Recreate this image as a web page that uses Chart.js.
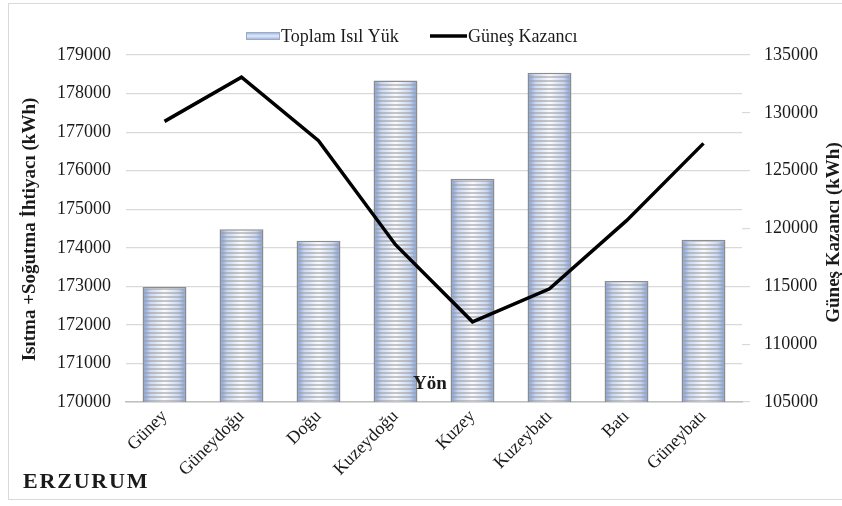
<!DOCTYPE html>
<html>
<head>
<meta charset="utf-8">
<script src="https://cdn.jsdelivr.net/npm/chart.js@4"></script>
<style>
  html, body { margin: 0; padding: 0; background: #fff; }
  #wrap { position: relative; width: 842px; height: 506px; overflow: hidden; }
  #frame { position: absolute; left: 8px; top: 3px; width: 860px; height: 497px; border: 1.5px solid #d9d9d9; box-sizing: border-box; }
  canvas { position: absolute; left: 0; top: 0; }
</style>
</head>
<body>
<div id="wrap">
  <div id="frame"></div>
  <canvas id="chart" width="842" height="506"></canvas>
</div>
<script>
"use strict";

// yönler ve değerler
const categories = ["Güney", "Güneydoğu", "Doğu", "Kuzeydoğu", "Kuzey", "Kuzeybatı", "Batı", "Güneybatı"];
const toplamIsilYuk = [172980, 174480, 174180, 178340, 175790, 178540, 173140, 174210];
const gunesKazanci = [129260, 133080, 127600, 118600, 111930, 114790, 120680, 127360];

// eksen aralıkları: [min, max, adım]
const leftAxisRange = [170000, 179000, 1000];
const rightAxisRange = [105000, 135000, 5000];

const seriesNames = ["Toplam Isıl Yük", "Güneş Kazancı"];
const axisTitles = ["Isıtma +Soğutma İhtiyacı (kWh)", "Güneş Kazancı (kWh)"];
const xTitle = "Yön";
const cityName = "ERZURUM";

const SERIF = "'Liberation Serif', 'Times New Roman', serif";
const TEXT = "#1a1a1a";
const GRID = "#d9d9d9";
const BAR_PCT = 0.57;

// binlik ayırıcı olmadan yaz
const plainNumber = (v) => String(v);

// yatay çizgili, kenarları mavi dolgu (her çubuk için ayrı desen)
function stripeFill(context) {
    const chart = context.chart;
    const xs = chart.scales.x;
    if (context.type !== "data" || !xs || !(xs.right > xs.left)) return "#c9d6ef";
    const slot = (xs.right - xs.left) / categories.length;
    const w = Math.max(2, Math.round(slot * BAR_PCT));
    const left = xs.getPixelForValue(context.dataIndex) - w / 2;
    const c = document.createElement("canvas");
    c.width = w;
    c.height = 4;
    const g = c.getContext("2d");
    const grad = g.createLinearGradient(0, 0, w, 0);
    grad.addColorStop(0, "#7a9ad8");
    grad.addColorStop(0.18, "#cbd8f2");
    grad.addColorStop(0.5, "#fafbfe");
    grad.addColorStop(0.82, "#cbd8f2");
    grad.addColorStop(1, "#7a9ad8");
    g.fillStyle = grad;
    g.fillRect(0, 0, w, 4);
    g.fillStyle = "rgba(155,155,155,0.55)";
    g.fillRect(0, 0, w, 2);
    const p = chart.ctx.createPattern(c, "repeat");
    p.setTransform(new DOMMatrix().translate(left, 0));
    return p;
}

// üstteki gösterge, eksen başlıkları ve şehir adı
const decorations = {
    id: "decorations",
    afterDraw(chart) {
        const ctx = chart.ctx;
        const area = chart.chartArea;
        ctx.save();

        // gösterge
        const ly = 36;
        const bx = 246;
        const bg = ctx.createLinearGradient(0, ly - 4, 0, ly + 4);
        bg.addColorStop(0, "#8eaadb");
        bg.addColorStop(0.5, "#e3eaf7");
        bg.addColorStop(1, "#8eaadb");
        ctx.fillStyle = bg;
        ctx.fillRect(bx, ly - 4, 34, 8);
        ctx.strokeStyle = "#9aaacb";
        ctx.lineWidth = 1;
        ctx.strokeRect(bx + 0.5, ly - 3.5, 33, 7);
        ctx.font = "18px " + SERIF;
        ctx.fillStyle = TEXT;
        ctx.textAlign = "left";
        ctx.textBaseline = "middle";
        ctx.fillText(seriesNames[0], bx + 35, ly + 1);

        const lx = 430;
        ctx.strokeStyle = "#000";
        ctx.lineWidth = 3.5;
        ctx.beginPath();
        ctx.moveTo(lx, ly);
        ctx.lineTo(lx + 37, ly);
        ctx.stroke();
        ctx.fillText(seriesNames[1], lx + 38, ly + 1);

        // eksen başlıkları
        ctx.font = "bold 19px " + SERIF;
        ctx.textAlign = "center";
        ctx.textBaseline = "middle";
        const cy = (area.top + area.bottom) / 2;
        ctx.save();
        ctx.translate(30, cy + 1);
        ctx.rotate(-Math.PI / 2);
        ctx.fillText(axisTitles[0], 0, 0);
        ctx.restore();
        ctx.save();
        ctx.translate(834, cy + 4);
        ctx.rotate(-Math.PI / 2);
        ctx.fillText(axisTitles[1], 0, 0);
        ctx.restore();

        // x ekseni başlığı (grafik içinde)
        ctx.textBaseline = "alphabetic";
        ctx.fillText(xTitle, (area.left + area.right) / 2 - 4, area.bottom - 13);

        // şehir adı, harf aralıklı
        ctx.font = "bold 22px " + SERIF;
        ctx.textAlign = "left";
        let x = 23;
        for (const ch of cityName) {
            ctx.fillText(ch, x, 488);
            x += ctx.measureText(ch).width + 1.8;
        }
        ctx.restore();
    }
};

new Chart(document.getElementById("chart"), {
    data: {
        labels: categories,
        datasets: [
            {
                type: "bar",
                label: seriesNames[0],
                data: toplamIsilYuk,
                yAxisID: "y",
                order: 1,
                backgroundColor: stripeFill,
                borderColor: "#8c8c8c",
                borderWidth: 1.5,
                barPercentage: BAR_PCT,
                categoryPercentage: 1
            },
            {
                type: "line",
                label: seriesNames[1],
                data: gunesKazanci,
                yAxisID: "y2",
                order: 0,
                borderColor: "#000",
                borderWidth: 3.5,
                pointRadius: 0,
                tension: 0,
                fill: false
            }
        ]
    },
    options: {
        responsive: false,
        animation: false,
        events: [],
        layout: { padding: { top: 55, left: 0, right: 0, bottom: 0 } },
        plugins: {
            legend: { display: false },
            tooltip: { enabled: false },
            title: { display: false }
        },
        scales: {
            x: {
                grid: { display: false, drawTicks: false },
                border: { display: true, color: "#bfbfbf", width: 1.5 },
                ticks: {
                    maxRotation: 45,
                    minRotation: 45,
                    autoSkip: false,
                    padding: 4,
                    color: TEXT,
                    font: { family: SERIF, size: 18 }
                },
                afterFit(s) { s.height = 104; }
            },
            y: {
                position: "left",
                min: leftAxisRange[0],
                max: leftAxisRange[1],
                ticks: {
                    stepSize: leftAxisRange[2],
                    padding: 15,
                    color: TEXT,
                    font: { family: SERIF, size: 18 },
                    callback: plainNumber
                },
                grid: { color: GRID, lineWidth: 1.2, drawTicks: false },
                border: { display: false },
                afterFit(s) { s.width = 126; }
            },
            y2: {
                position: "right",
                min: rightAxisRange[0],
                max: rightAxisRange[1],
                ticks: {
                    stepSize: rightAxisRange[2],
                    padding: 14,
                    color: TEXT,
                    font: { family: SERIF, size: 18 },
                    callback: plainNumber
                },
                grid: { drawOnChartArea: false, color: GRID, lineWidth: 1.2, tickLength: 8 },
                border: { display: false },
                afterFit(s) { s.width = 100; }
            }
        }
    },
    plugins: [decorations]
});
</script>
</body>
</html>
